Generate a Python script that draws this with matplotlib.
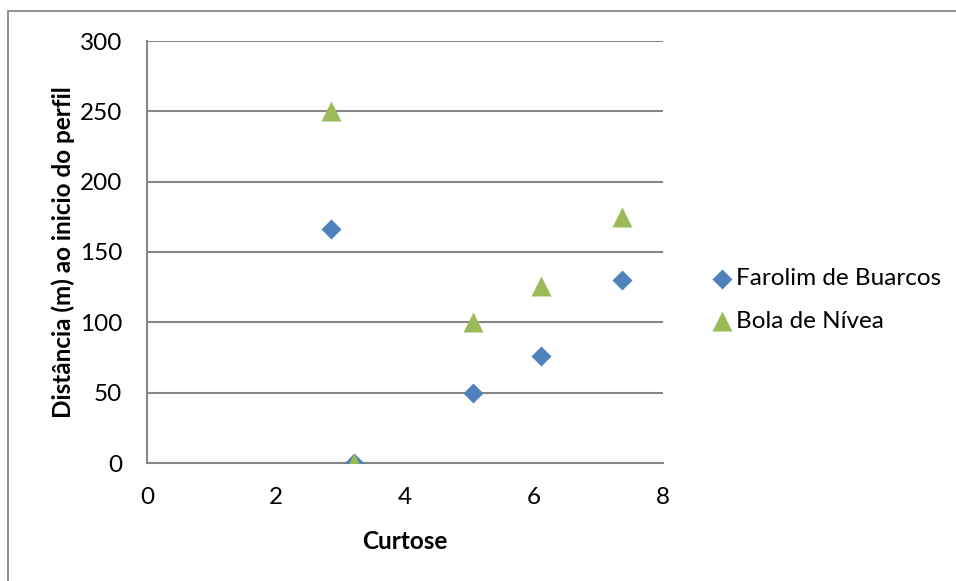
import matplotlib
matplotlib.use("Agg")
import matplotlib.pyplot as plt
from matplotlib.patches import Rectangle

plt.rcParams['font.family'] = ['Lato', 'DejaVu Sans']

# curtose vs distance from start of profile
farolim_x = [2.86, 3.21, 5.05, 6.11, 7.37]
farolim_y = [166, 0, 50, 76, 130]
bola_x = [2.86, 3.21, 5.05, 6.11, 7.37]
bola_y = [250, 0, 100, 126, 175]

x_ticks = [0, 2, 4, 6, 8]
y_ticks = [0, 50, 100, 150, 200, 250, 300]

blue = '#4F81BD'
green = '#9BBB59'
grid_col = '#878787'
fs = 17.5

fig = plt.figure(figsize=(9.56, 5.81), dpi=100)
ax = fig.add_axes([147 / 956, 1 - 463 / 581, (663 - 147) / 956, (463 - 41) / 581])

# outer chart border
fig.patches.append(Rectangle((8 / 956, -0.1), 1.2, 1 - 10.5 / 581 + 0.1,
                             transform=fig.transFigure, fill=False,
                             edgecolor='#898989', linewidth=1.3))

ax.scatter(farolim_x, farolim_y, marker='D', s=10.2 ** 2, color=blue,
           label='Farolim de Buarcos', zorder=3, linewidths=0)
ax.scatter(bola_x, bola_y, marker='^', s=14.4 ** 2, color=green,
           label='Bola de Nívea', zorder=4, linewidths=0)

ax.set_xlim(0, 8)
ax.set_ylim(0, 300)
ax.set_xticks(x_ticks)
ax.set_yticks(y_ticks)
ax.yaxis.grid(True, color=grid_col, linewidth=1.5)
ax.set_axisbelow(True)
ax.tick_params(length=0, labelsize=fs)
ax.tick_params(axis='x', pad=17)
ax.tick_params(axis='y', pad=18)

for side in ['top', 'right']:
    ax.spines[side].set_visible(False)
ax.spines['left'].set_color(grid_col)
ax.spines['bottom'].set_color(grid_col)
ax.spines['left'].set_linewidth(1.5)
ax.spines['bottom'].set_linewidth(1.5)

ax.set_xlabel('Curtose', fontsize=fs, fontweight='bold', labelpad=16)
ax.set_ylabel('Distância (m) ao inicio do perfil', fontsize=fs,
              fontweight='bold', labelpad=3)

ax.legend(loc='center left', bbox_to_anchor=(700 / 956, 1 - 300 / 581),
          bbox_transform=fig.transFigure, frameon=False, fontsize=fs,
          handletextpad=0.1, labelspacing=0.88, borderaxespad=0,
          handlelength=1.0, scatterpoints=1)

fig.savefig('out.png', dpi=100)
